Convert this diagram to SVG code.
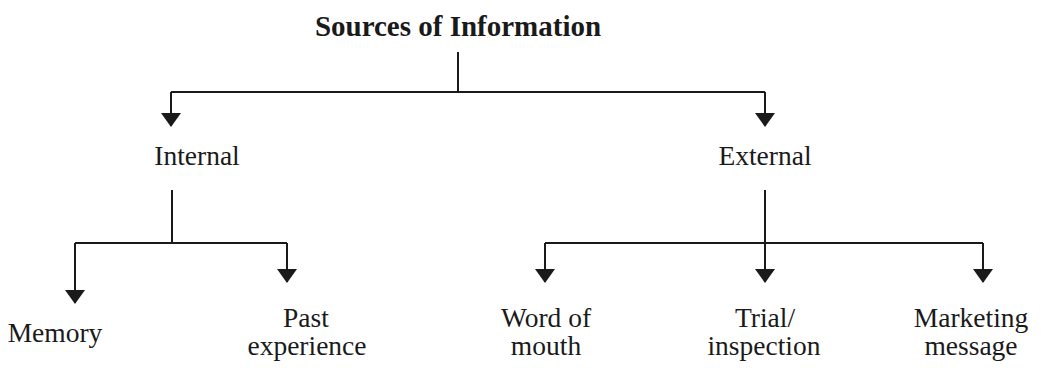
<svg xmlns="http://www.w3.org/2000/svg" width="1041" height="368" viewBox="0 0 1041 368">
  <style>
    .label { font-family: "Liberation Serif", "Times New Roman", serif; font-size: 27.5px; fill: #1a1a1a; text-anchor: middle; }
    .title { font-weight: bold; font-size: 29px; }
    .wire { fill: none; stroke: #1a1a1a; stroke-width: 2; }
  </style>
  <defs>
    <!-- filled triangular head, drawn pointing along +x so orient="auto" follows the line -->
    <marker id="head" viewBox="0 0 14 20" refX="13" refY="10" markerWidth="14" markerHeight="20" markerUnits="userSpaceOnUse" orient="auto">
      <path d="M0,0 L14,10 L0,20 Z" fill="#1a1a1a"/>
    </marker>
  </defs>
  <rect width="1041" height="368" fill="#ffffff"/>

  <!-- connectors -->
  <g id="connectors" class="wire">
    <!-- Sources of Information -> Internal / External -->
    <path d="M458,52 V92"/>
    <path d="M171,92 H765"/>
    <path d="M171,92 V126" marker-end="url(#head)"/>
    <path d="M765,92 V126" marker-end="url(#head)"/>
    <!-- Internal -> Memory / Past experience -->
    <path d="M172,190 V243"/>
    <path d="M75,243 H287"/>
    <path d="M75,243 V303" marker-end="url(#head)"/>
    <path d="M287,243 V282" marker-end="url(#head)"/>
    <!-- External -> Word of mouth / Trial / Marketing message -->
    <path d="M765,190 V282" marker-end="url(#head)"/>
    <path d="M545,243 H983"/>
    <path d="M545,243 V282" marker-end="url(#head)"/>
    <path d="M983,243 V282" marker-end="url(#head)"/>
  </g>

  <g id="node-sources">
    <text class="label title" x="458" y="36">Sources of Information</text>
  </g>
  <g id="node-internal">
    <text class="label" x="197" y="165">Internal</text>
  </g>
  <g id="node-external">
    <text class="label" x="765" y="165">External</text>
  </g>
  <g id="node-memory">
    <text class="label" x="55" y="342">Memory</text>
  </g>
  <g id="node-past-experience">
    <text class="label" x="306" y="327">Past</text>
    <text class="label" x="307" y="355">experience</text>
  </g>
  <g id="node-word-of-mouth">
    <text class="label" x="546" y="327">Word of</text>
    <text class="label" x="546" y="355">mouth</text>
  </g>
  <g id="node-trial-inspection">
    <text class="label" x="765" y="327">Trial/</text>
    <text class="label" x="764" y="355">inspection</text>
  </g>
  <g id="node-marketing-message">
    <text class="label" x="971" y="327">Marketing</text>
    <text class="label" x="971" y="355">message</text>
  </g>
</svg>
